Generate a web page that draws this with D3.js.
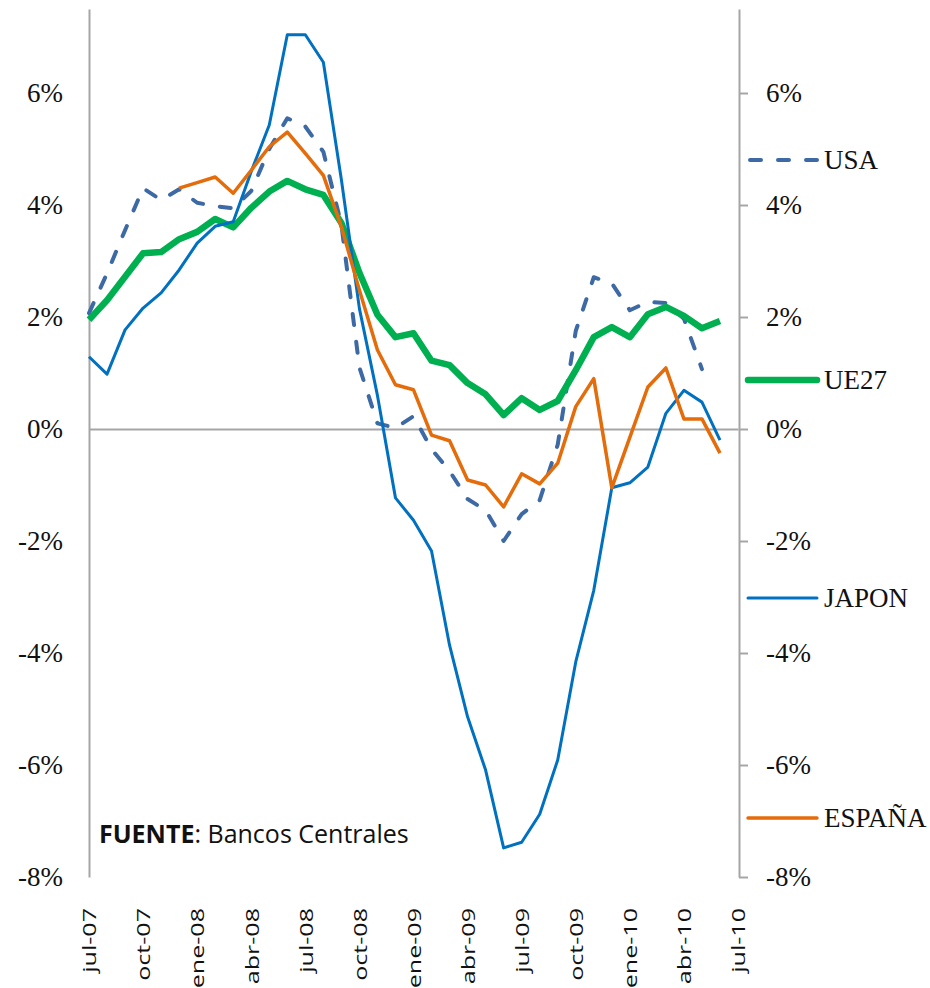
<!DOCTYPE html>
<html>
<head>
<meta charset="utf-8">
<script src="https://cdn.jsdelivr.net/npm/d3@7"></script>
<style>
  html, body { margin: 0; padding: 0; background: #fff; }
  svg { display: block; }
</style>
</head>
<body>
<svg id="chart" width="930" height="988"></svg>
<script>
// Year-on-year inflation, monthly from jul-07 to jun-10 (index 0 = first month)
const tickLabels = ["jul-07","oct-07","ene-08","abr-08","jul-08","oct-08","ene-09",
                    "abr-09","jul-09","oct-09","ene-10","abr-10","jul-10"];

const usa = [2.07, 2.78, 3.55, 4.30, 4.09, 4.28, 4.04, 3.98, 3.94, 4.25, 5.00, 5.55,
             5.40, 4.95, 3.65, 1.10, 0.10, 0.02, 0.23, -0.36, -0.75, -1.25, -1.45, -2.00,
             -1.52, -1.27, -0.28, 1.75, 2.71, 2.60, 2.12, 2.27, 2.25, 1.97, 1.07, null];

const ue27 = [1.95, 2.30, 2.72, 3.14, 3.16, 3.39, 3.52, 3.75, 3.60, 3.95, 4.24, 4.43,
              4.28, 4.18, 3.68, 2.79, 2.04, 1.64, 1.71, 1.22, 1.14, 0.82, 0.62, 0.25,
              0.55, 0.34, 0.50, 1.05, 1.64, 1.82, 1.64, 2.05, 2.18, 2.02, 1.80, 1.93];

const japon = [1.29, 0.98, 1.77, 2.16, 2.43, 2.84, 3.32, 3.62, 3.70, 4.60, 5.43, 7.04,
               7.04, 6.55, 4.45, 2.15, 0.60, -1.23, -1.63, -2.18, -3.86, -5.14, -6.09, -7.48,
               -7.38, -6.88, -5.91, -4.16, -2.88, -1.05, -0.96, -0.68, 0.28, 0.69, 0.48, -0.20];

const espana = [null, null, null, null, null, 4.30, 4.40, 4.50, 4.21, 4.62, 5.04, 5.30,
                4.92, 4.53, 3.61, 2.48, 1.41, 0.79, 0.70, -0.11, -0.21, -0.91, -1.00, -1.39,
                -0.80, -0.98, -0.61, 0.40, 0.90, -1.05, -0.15, 0.75, 1.09, 0.18, 0.18, -0.43];

const yTicks = [-8, -6, -4, -2, 0, 2, 4, 6];

const series = [
  { name: "USA",    values: usa,    color: "#3d6aa5", width: 4,   dash: "11 17", legendY: 160 },
  { name: "UE27",   values: ue27,   color: "#00b050", width: 6.5, dash: null,    legendY: 380 },
  { name: "JAPON",  values: japon,  color: "#0070c0", width: 3,   dash: null,    legendY: 598 },
  { name: "ESPAÑA", values: espana, color: "#e46c0a", width: 3.5, dash: null,    legendY: 818 }
];

const svg = d3.select("#chart");
const serif = "'Liberation Serif', 'Times New Roman', serif";
const sans = "'Open Sans', 'Noto Sans', sans-serif";
const axisGray = "#a6a6a6";

const x = d3.scaleLinear().domain([0, 36]).range([89, 738]);
const y = d3.scaleLinear().domain([-8, 7.5]).range([877, 9]);

// Left value axis (no tick marks)
const left = svg.append("g")
  .attr("transform", `translate(${x(0)},0)`)
  .call(d3.axisLeft(y).tickValues(yTicks).tickSize(0).tickSizeOuter(0)
        .tickPadding(26).tickFormat(d => d + "%"));

// Right value axis (ticks point outward)
const right = svg.append("g")
  .attr("transform", `translate(${x(36) + 1},0)`)
  .call(d3.axisRight(y).tickValues(yTicks).tickSize(9).tickSizeOuter(0)
        .tickPadding(18).tickFormat(d => d + "%"));

[left, right].forEach(g => {
  g.select(".domain").attr("stroke", axisGray).attr("stroke-width", 2);
  g.selectAll(".tick line").attr("stroke", axisGray).attr("stroke-width", 2);
  g.selectAll(".tick text")
    .attr("font-family", serif).attr("font-size", 27).attr("fill", "#111");
});

// Category axis sits on the zero line
const bottom = svg.append("g")
  .attr("transform", `translate(0,${y(0)})`)
  .call(d3.axisBottom(x).tickValues(d3.range(0, 37, 3)).tickSize(0).tickSizeOuter(0)
        .tickFormat(""));
bottom.select(".domain").attr("stroke", axisGray).attr("stroke-width", 2);

// Month labels, set low under the plot, rotated
svg.append("g").selectAll("text")
  .data(tickLabels)
  .join("text")
  .attr("transform", (d, i) => `translate(${x(i * 3)},908) rotate(-90) scale(1.32,1)`)
  .attr("text-anchor", "end")
  .attr("dominant-baseline", "central")
  .attr("font-family", sans)
  .attr("font-size", 19)
  .attr("fill", "#111")
  .text(d => d);

// Series lines
const line = d3.line()
  .defined(d => d != null)
  .x((d, i) => x(i))
  .y(d => y(d));

svg.append("g").selectAll("path")
  .data(series)
  .join("path")
  .attr("d", s => line(s.values))
  .attr("fill", "none")
  .attr("stroke", s => s.color)
  .attr("stroke-width", s => s.width)
  .attr("stroke-linejoin", "round")
  .attr("stroke-linecap", s => s.dash ? "round" : "butt")
  .attr("stroke-dasharray", s => s.dash);

// Legend along the right edge
const legend = svg.append("g").selectAll("g")
  .data(series)
  .join("g")
  .attr("transform", s => `translate(0,${s.legendY})`);

legend.append("line")
  .attr("x1", s => s.dash ? 750 : 748)
  .attr("x2", 817)
  .attr("stroke", s => s.color)
  .attr("stroke-width", s => s.width)
  .attr("stroke-linecap", "round")
  .attr("stroke-dasharray", s => s.dash);

legend.append("text")
  .attr("x", 824)
  .attr("y", 9)
  .attr("font-family", serif)
  .attr("font-size", 27)
  .attr("fill", "#111")
  .text(s => s.name);

// Source note
const note = svg.append("text")
  .attr("x", 99)
  .attr("y", 843)
  .attr("font-family", sans)
  .attr("font-size", 25)
  .attr("fill", "#111");
note.append("tspan").attr("font-weight", "bold").text("FUENTE");
note.append("tspan").text(": Bancos Centrales");
</script>
</body>
</html>
